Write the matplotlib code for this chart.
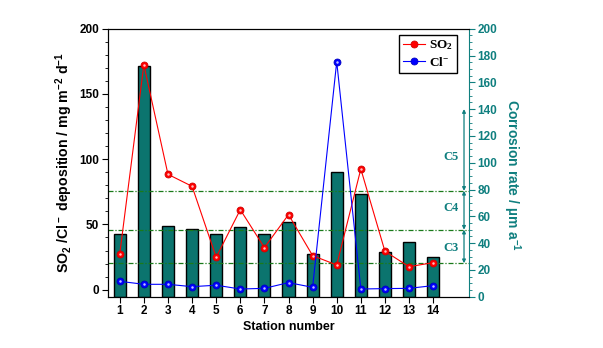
import matplotlib.pyplot as plt
from matplotlib.ticker import MultipleLocator

plt.rcParams["font.family"] = ["Liberation Sans", "DejaVu Sans"]
plt.rcParams["mathtext.default"] = "regular"

# Station data
stations = list(range(1, 15))
so2 = [27.4, 172.4, 88.4, 79.2, 24.8, 61.3, 32.2, 57.5, 26.1, 18.9, 92.5, 29.4, 17.6, 20.7]
cl = [6.4, 4.1, 4.1, 2.3, 3.4, 0.5, 1.0, 5.4, 1.8, 174.7, 0.5, 0.8, 1.0, 3.1]
corrosion = [46.5, 172.0, 53.0, 50.5, 46.5, 52.0, 46.5, 56.0, 32.0, 93.0, 77.0, 33.5, 40.8, 29.8]

# Corrosivity category limits (right axis units)
class_bounds = [25, 50, 79]
c5_top = 140
class_labels = ["C3", "C4", "C5"]
label_y = [36, 66, 104]

teal = "#0f7f7f"
bar_color = "#0b746e"

fig = plt.figure(figsize=(6.03, 3.48), dpi=100)
ax = fig.add_axes([0.1786, 0.1474, 0.5997, 0.7701])
ax2 = ax.twinx()

# bars go on the right axis, behind the deposition lines
ax.set_zorder(2)
ax.patch.set_visible(False)
ax2.set_zorder(1)

ax2.bar(stations, corrosion, width=0.5, color=bar_color, edgecolor="black", linewidth=1.0)
ax2.set_ylim(0, 200)
ax2.yaxis.set_major_locator(MultipleLocator(20))
ax2.yaxis.set_minor_locator(MultipleLocator(5))
ax2.tick_params(axis="y", which="both", colors=teal, direction="out", labelsize=8.5, pad=2)
ax2.tick_params(axis="y", which="major", length=4)
ax2.tick_params(axis="y", which="minor", length=2.5)
for lab in ax2.get_yticklabels():
    lab.set_fontweight("bold")
ax2.spines["right"].set_color(teal)
ax2.set_ylabel("Corrosion rate / µm a$^{-1}$", color=teal, fontsize=10,
               fontweight="bold", rotation=270, labelpad=18, y=0.455)

# category limits and double arrows
for b in class_bounds:
    ax2.axhline(b, color="#1a7a1a", linestyle=(0, (4, 1.5, 1, 1.5)), linewidth=0.9)
xa = 15.28
segments = [(class_bounds[0], class_bounds[1]), (class_bounds[1], class_bounds[2]),
            (class_bounds[2], c5_top)]
for (lo, hi), name, ly in zip(segments, class_labels, label_y):
    ax2.annotate("", xy=(xa, hi), xytext=(xa, lo),
                 arrowprops=dict(arrowstyle="<|-|>", color=teal, lw=0.9,
                                 mutation_scale=5, shrinkA=0, shrinkB=0))
    ax2.text(14.75, ly, name, color=teal, fontsize=9, fontweight="bold",
             family="Liberation Serif", ha="center", va="center")

# deposition lines
ax.plot(stations, so2, color="red", linewidth=0.8, marker="o", markersize=5,
        markerfacecolor="red", markeredgecolor="#d00000", markeredgewidth=0.6,
        label="SO$_2$")
ax.plot(stations, cl, color="blue", linewidth=0.8, marker="o", markersize=5,
        markerfacecolor="blue", markeredgecolor="#0000c0", markeredgewidth=0.6,
        label="Cl$^{-}$")
# highlight on the spheres
ax.plot(stations, so2, linestyle="none", marker="o", markersize=1.8,
        markerfacecolor="#ffc0c0", markeredgewidth=0)
ax.plot(stations, cl, linestyle="none", marker="o", markersize=1.8,
        markerfacecolor="#c0c0ff", markeredgewidth=0)

ax.set_xlim(0.5, 15.5)
ax.set_ylim(-5.4, 200)
ax.set_xticks(stations)
ax.yaxis.set_major_locator(MultipleLocator(50))
ax.yaxis.set_minor_locator(MultipleLocator(10))
ax.tick_params(axis="both", which="both", direction="out", labelsize=8.5)
ax.tick_params(axis="both", which="major", length=4)
ax.tick_params(axis="y", which="minor", length=2.5)
ax.tick_params(axis="y", which="major", pad=2)
ax.tick_params(axis="x", which="major", pad=2)
ax.spines["right"].set_visible(False)
for lab in ax.get_xticklabels() + ax.get_yticklabels():
    lab.set_fontweight("bold")
ax.set_xlabel("Station number", fontsize=9, fontweight="bold", labelpad=3)
ax.set_ylabel("SO$_2$ /Cl$^-$ deposition / mg m$^{-2}$ d$^{-1}$",
              fontsize=10.2, fontweight="bold", labelpad=3)

leg = ax.legend(loc="upper right", bbox_to_anchor=(0.967, 0.978), fancybox=False,
                edgecolor="black", framealpha=1, handlelength=1.7, borderpad=0.3,
                labelspacing=0.25, handletextpad=0.3, borderaxespad=0,
                prop={"family": "Liberation Serif", "size": 9.5, "weight": "bold"})
leg.get_frame().set_linewidth(1.0)

fig.savefig("out.png", dpi=100)
